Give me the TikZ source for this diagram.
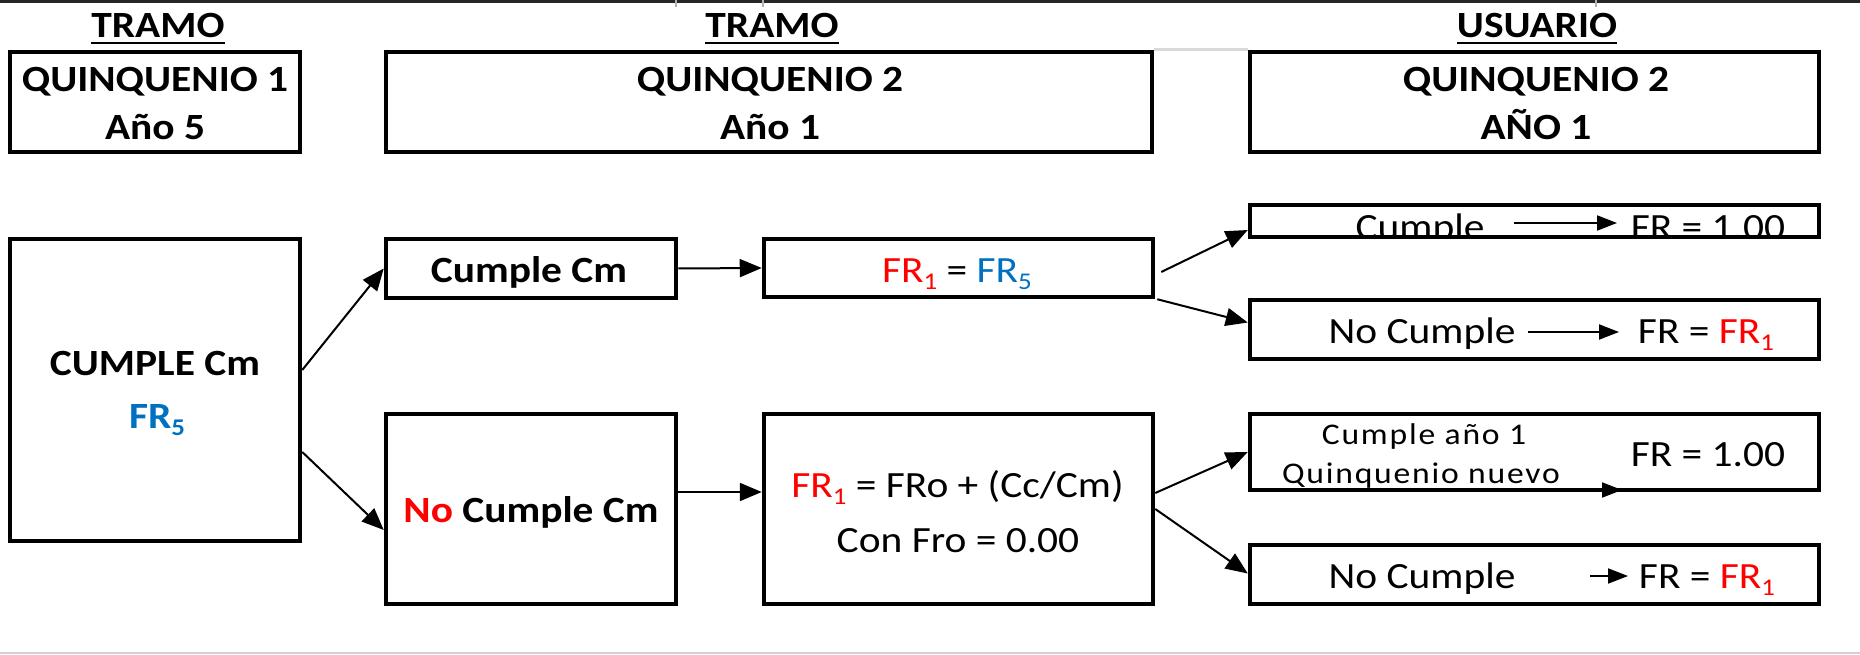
\documentclass[tikz,border=0pt]{standalone}
\usepackage{fontspec}
\setmainfont{Carlito}[FakeStretch=1.12]
\usetikzlibrary{arrows.meta,calc}
\definecolor{xred}{HTML}{FF0000}
\definecolor{xblue}{HTML}{0070C0}
\newcommand\bigfs{\fontsize{37}{44}\selectfont}
\newcommand\smallfs{\fontsize{30}{36}\selectfont\addfontfeatures{LetterSpace=6}}
\newcommand\subs[1]{\raisebox{-0.19em}{\fontsize{24}{24}\selectfont #1}}
\begin{document}
\begin{tikzpicture}[x=1pt,y=-1pt,
  box/.style={draw, line width=4.5pt, inner sep=0pt},
  txt/.style={inner sep=0pt, anchor=base, font=\bigfs},
  bftxt/.style={inner sep=0pt, anchor=base, font=\bigfs\bfseries},
  smtxt/.style={inner sep=0pt, anchor=base, font=\smallfs},
  arr/.style={line width=2pt, -{Triangle[length=22pt,width=18pt]}},
  thinarr/.style={line width=2pt, -{Triangle[length=20pt,width=15pt]}},
  ul/.style={line width=2.5pt},
  graybar/.style={line width=2.5pt, black!15}]
\useasboundingbox (0,0) rectangle (1860,655);
% frame lines
\coordinate (tl) at (0,1.5);
\coordinate (tr) at (1860,1.5);
\draw[line width=3pt, black!85] (tl) -- (tr);
\coordinate (bl) at (0,653);
\coordinate (br) at (1860,653);
\draw[line width=2pt, black!18] (bl) -- (br);
\foreach \x in {676,763,1596}{\draw[line width=1.5pt, black!30] (\x,0) -- (\x,7);}
% headers
\node[bftxt] (h1) at (158,38) {TRAMO};
\node[bftxt] (h2) at (772,38) {TRAMO};
\node[bftxt] (h3) at (1537,38) {USUARIO};
\foreach \h in {h1,h2,h3}{\draw[ul] ([yshift=-5pt]\h.base west) -- ([yshift=-5pt]\h.base east);}
% top boxes
\node[box, minimum width=290pt, minimum height=100pt] (q1) at (155,102) {};
\node[box, minimum width=766pt, minimum height=100pt] (q2) at (769,102) {};
\node[box, minimum width=569pt, minimum height=100pt] (u) at (1534.5,102) {};
\draw[graybar] (q2.north east) -- (u.north west);
\node[bftxt] (q1a) at (155,92) {QUINQUENIO 1};
\node[bftxt] (q1b) at (155,140) {Año 5};
\node[bftxt] (q2a) at (770,92) {QUINQUENIO 2};
\node[bftxt] (q2b) at (770,140) {Año 1};
\node[bftxt] (ua) at (1536,92) {QUINQUENIO 2};
\node[bftxt] (ub) at (1536,140) {AÑO 1};
% left and middle boxes
\node[box, minimum width=290pt, minimum height=302pt] (big) at (155,390) {};
\node[bftxt] (bigA) at (155,375) {CUMPLE Cm};
\node[bftxt, text=xblue] (bigB) at (157,428) {FR\subs{5}};
\node[box, minimum width=290pt, minimum height=59pt] (cm) at (531,268.5) {};
\node[bftxt] (cmT) at (529,282) {Cumple Cm};
\node[box, minimum width=389pt, minimum height=58pt] (fr) at (958.5,268) {};
\node[txt] (frT) at (957,282) {\textcolor{xred}{FR\subs{1}} = \textcolor{xblue}{FR\subs{5}}};
\node[box, minimum width=290pt, minimum height=190pt] (ncm) at (531,509) {};
\node[bftxt] (ncmT) at (531,522) {\textcolor{xred}{No} Cumple Cm};
\node[box, minimum width=389pt, minimum height=190pt] (fro) at (958.5,509) {};
\node[txt] (froA) at (957.5,497) {\textcolor{xred}{FR\subs{1}} = FRo + (Cc/Cm)};
\node[txt] (froB) at (958,552) {Con Fro = 0.00};
% user boxes
\begin{scope}
\clip (1250,205) rectangle (1819,237.5);
\node[txt] (u1a) at (1420,240) {Cumple};
\node[txt] (u1b) at (1708,240) {FR = 1.00};
\end{scope}
\node[box, minimum width=569pt, minimum height=32pt] (u1) at (1534.5,221) {};
\coordinate (u1s) at (1514,223);
\coordinate (u1e) at (1617,223);
\draw[thinarr] (u1s) -- (u1e);

\node[box, minimum width=569pt, minimum height=59pt] (u2) at (1534.5,329.5) {};
\node[txt] (u2a) at (1422,343) {No Cumple};
\node[txt] (u2b) at (1706,343) {FR = \textcolor{xred}{FR\subs{1}}};
\coordinate (u2s) at (1528,332);
\coordinate (u2e) at (1619,332);
\draw[thinarr] (u2s) -- (u2e);

\node[box, minimum width=569pt, minimum height=76pt] (u3) at (1534.5,452) {};
\node[smtxt] (u3a) at (1424,444) {Cumple año 1};
\node[smtxt] (u3b) at (1421,483) {Quinquenio nuevo};
\node[txt] (u3c) at (1708,466) {FR = 1.00};
\coordinate (u3s) at (1530,490);
\coordinate (u3e) at (1622,490);
\draw[thinarr] (u3s) -- (u3e);

\node[box, minimum width=569pt, minimum height=59pt] (u4) at (1534.5,574.5) {};
\node[txt] (u4a) at (1422,588) {No Cumple};
\node[txt] (u4b) at (1707,588) {FR = \textcolor{xred}{FR\subs{1}}};
\coordinate (u4s) at (1590,576);
\coordinate (u4e) at (1628,576);
\draw[thinarr] (u4s) -- (u4e);
% connectors
\draw[arr] ([yshift=20pt]big.east) -- (cm.west);
\draw[arr] ([yshift=-62pt]big.east) -- ([yshift=-21pt]ncm.west);
\draw[arr] (cm.east) -- (fr.west);
\draw[arr] ([yshift=17pt]ncm.east) -- ([yshift=17pt]fro.west);
\draw[arr] ([xshift=6pt,yshift=-4pt]fr.east) -- ([yshift=-9pt]u1.west);
\draw[arr] ([xshift=2pt]fr.south east) -- ([yshift=7pt]u2.west);
\draw[arr] ([yshift=16pt]fro.east) -- (u3.west);
\draw[arr] (fro.east) -- ([yshift=1pt]u4.west);
\end{tikzpicture}
\end{document}
